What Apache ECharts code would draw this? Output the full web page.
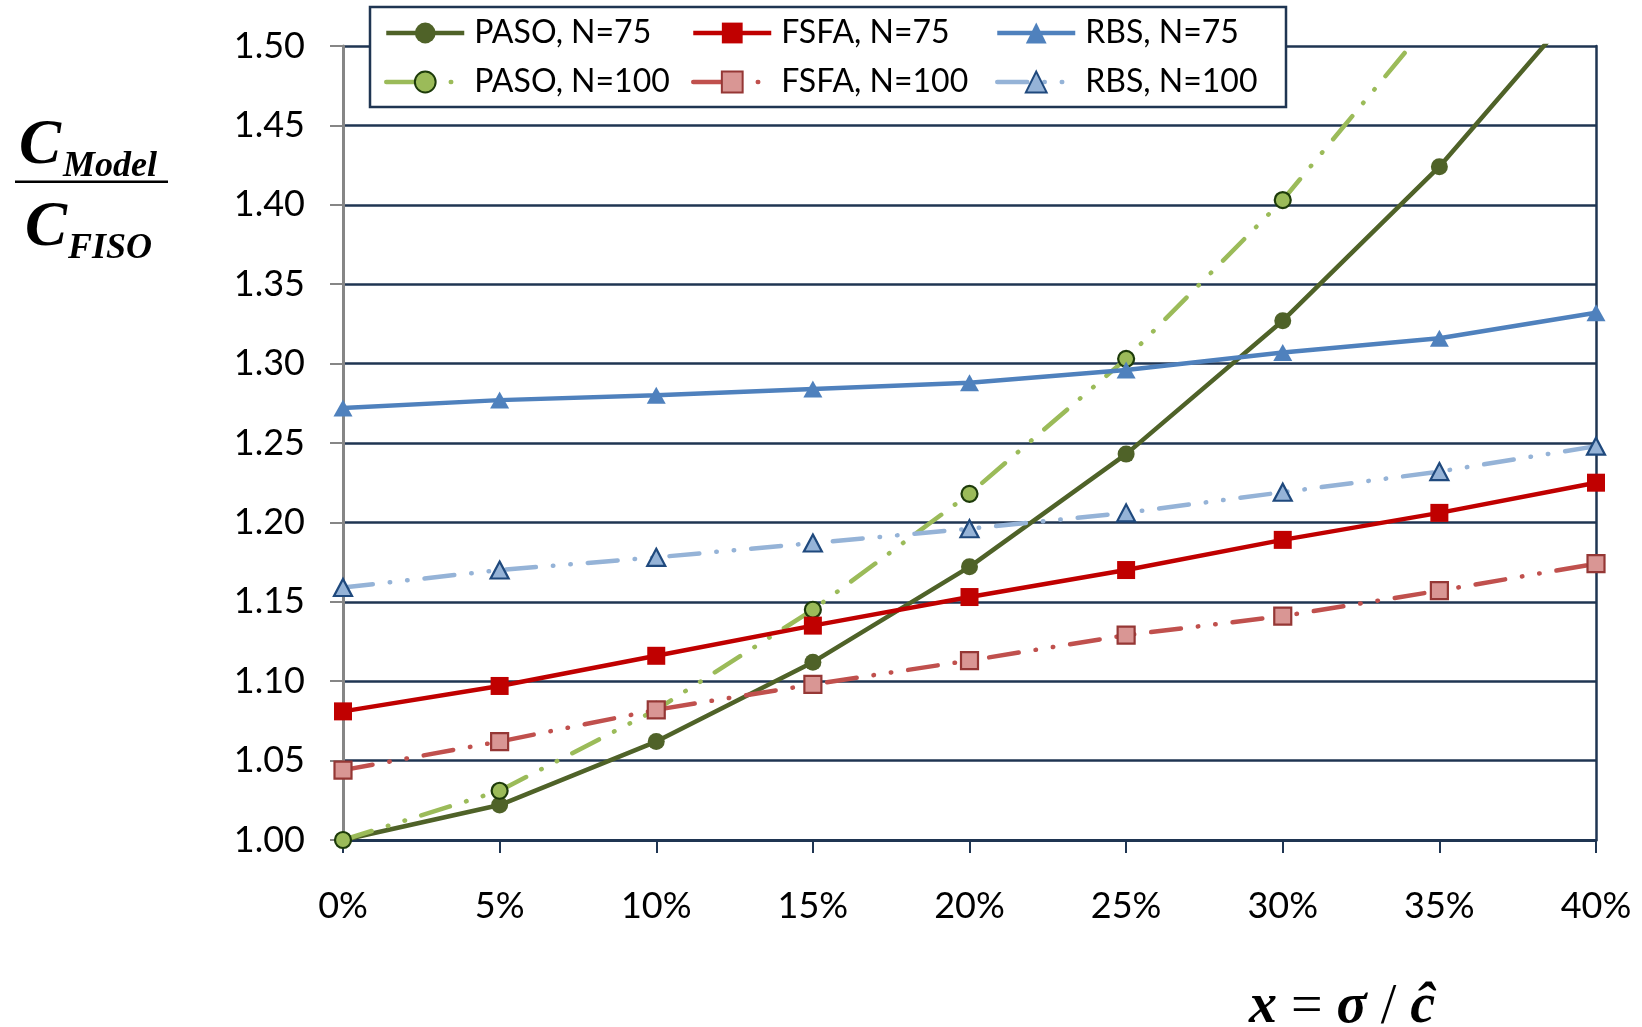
<!DOCTYPE html>
<html>
<head>
<meta charset="utf-8">
<script src="https://cdn.jsdelivr.net/npm/echarts@6/dist/echarts.min.js"></script>
<style>
html,body{margin:0;padding:0;background:#fff;}
#chart{width:1642px;height:1027px;}
</style>
</head>
<body>
<div id="chart"></div>
<script>
// x values (percent)
const xPct = [0, 5, 10, 15, 20, 25, 30, 35, 40];
const xTickLabels = ['0%', '5%', '10%', '15%', '20%', '25%', '30%', '35%', '40%'];
const yTickLabels = ['1.00','1.05','1.10','1.15','1.20','1.25','1.30','1.35','1.40','1.45','1.50'];

// series values (C_Model / C_FISO)
const pasoN75  = [1.000, 1.022, 1.062, 1.112, 1.172, 1.243, 1.327, 1.424, 1.538];
const pasoN100 = [1.000, 1.031, 1.082, 1.145, 1.218, 1.303, 1.403, 1.522, null];
const fsfaN75  = [1.081, 1.097, 1.116, 1.135, 1.153, 1.170, 1.189, 1.206, 1.225];
const fsfaN100 = [1.044, 1.062, 1.082, 1.098, 1.113, 1.129, 1.141, 1.157, 1.174];
const rbsN75   = [1.272, 1.277, 1.280, 1.284, 1.288, 1.296, 1.307, 1.316, 1.332];
const rbsN100  = [1.159, 1.170, 1.178, 1.187, 1.196, 1.206, 1.219, 1.232, 1.248];

const names = ['PASO, N=75','FSFA, N=75','RBS, N=75','PASO, N=100','FSFA, N=100','RBS, N=100'];

const pairs = arr => xPct.map((x, i) => [x, arr[i]]);
const NAVY = '#1F3552';
const DASH = [30, 17, 0.5, 17, 0.5, 17];
const FONT = 'Lato';

const chart = echarts.init(document.getElementById('chart'), null, {renderer: 'canvas'});

function solid(name, data, color, symbol, size) {
  return {
    name, type: 'line', data: pairs(data), symbol, symbolSize: size,
    showSymbol: true, clip: true, z: 3,
    lineStyle: {color, width: 4.5, type: 'solid'},
    itemStyle: {color, borderWidth: 0}
  };
}
function dashed(name, data, lineColor, fill, border, symbol, size) {
  return {
    name, type: 'line', data: pairs(data), symbol, symbolSize: size,
    showSymbol: true, clip: true, z: 3, connectNulls: false,
    lineStyle: {color: lineColor, width: 4.5, type: DASH, cap: 'round'},
    itemStyle: {color: fill, borderColor: border, borderWidth: 2.2}
  };
}

const legendBase = {
  orient: 'vertical', top: 17, padding: 0, itemWidth: 78, itemHeight: 26, itemGap: 17,
  z: 20, selectedMode: false,
  lineStyle: {width: 4.5},
  textStyle: {fontFamily: FONT, fontSize: 32, color: '#000', padding: [0, 0, 0, 5]}
};

const option = {
  animation: false,
  backgroundColor: '#fff',
  grid: {left: 343, right: 46, top: 46, bottom: 187, containLabel: false},
  legend: [
    Object.assign({}, legendBase, {left: 384, data: [names[0], names[3]]}),
    Object.assign({}, legendBase, {left: 691, data: [names[1], names[4]]}),
    Object.assign({}, legendBase, {left: 995, data: [names[2], names[5]]})
  ],
  xAxis: {
    type: 'value', min: 0, max: 40, interval: 5,
    axisLine: {show: true, onZero: false, lineStyle: {color: NAVY, width: 3}},
    axisTick: {show: true, length: 13, lineStyle: {color: NAVY, width: 2}},
    axisLabel: {
      margin: 48, fontFamily: FONT, fontSize: 36, color: '#000',
      formatter: v => xTickLabels[xPct.indexOf(v)]
    },
    splitLine: {show: false}
  },
  yAxis: [{
    type: 'value', min: 1, max: 1.5, interval: 0.05,
    axisLine: {show: true, lineStyle: {color: '#868686', width: 3}},
    axisTick: {show: true, length: 13, lineStyle: {color: '#868686', width: 2}},
    axisLabel: {
      margin: 38, fontFamily: FONT, fontSize: 36, color: '#000',
      formatter: v => yTickLabels[Math.round((v - 1) / 0.05)]
    },
    splitLine: {show: true, lineStyle: {color: NAVY, width: 2.5}}
  }, {
    type: 'value', min: 1, max: 1.5, interval: 0.05, position: 'right',
    axisLine: {show: true, lineStyle: {color: NAVY, width: 2.5}},
    axisTick: {show: false}, axisLabel: {show: false}, splitLine: {show: false}
  }],
  graphic: [
    {type: 'rect', z: 10, shape: {x: 370, y: 7, width: 916, height: 100},
     style: {fill: '#fff', stroke: NAVY, lineWidth: 2.5}},
    {type: 'text', x: 40, y: 147, style: {text: 'C', font: 'italic bold 63px "Liberation Serif"', fill: '#000', textAlign: 'center', textVerticalAlign: 'middle'}},
    {type: 'text', x: 63, y: 167, style: {text: 'Model', font: 'italic bold 36px "Liberation Serif"', fill: '#000', textAlign: 'left', textVerticalAlign: 'middle'}},
    {type: 'rect', shape: {x: 15, y: 180.5, width: 153, height: 2.5}, style: {fill: '#000'}},
    {type: 'text', x: 46, y: 229, style: {text: 'C', font: 'italic bold 63px "Liberation Serif"', fill: '#000', textAlign: 'center', textVerticalAlign: 'middle'}},
    {type: 'text', x: 68, y: 249, style: {text: 'FISO', font: 'italic bold 36px "Liberation Serif"', fill: '#000', textAlign: 'left', textVerticalAlign: 'middle'}},
    {type: 'text', x: 1342, y: 1008, style: {
      text: '{b|x}{n| = }{b|σ}{n| / }{b|ĉ}', textAlign: 'center', textVerticalAlign: 'middle',
      rich: {
        b: {font: 'italic bold 56px "Liberation Serif"', fill: '#000'},
        n: {font: '56px "Liberation Serif"', fill: '#000'}
      }
    }}
  ],
  series: [
    solid(names[0], pasoN75, '#4F6228', 'circle', 17),
    dashed(names[3], pasoN100, '#9BBB59', '#9BBB59', '#1D3B0A', 'circle', 16),
    solid(names[1], fsfaN75, '#C00000', 'rect', 18),
    dashed(names[4], fsfaN100, '#C0504D', '#D99694', '#953735', 'rect', 17),
    solid(names[2], rbsN75, '#4F81BD', 'triangle', [19, 17]),
    dashed(names[5], rbsN100, '#95B3D7', '#95B3D7', '#1F497D', 'triangle', [18, 17])
  ]
};
chart.setOption(option);
</script>
</body>
</html>
